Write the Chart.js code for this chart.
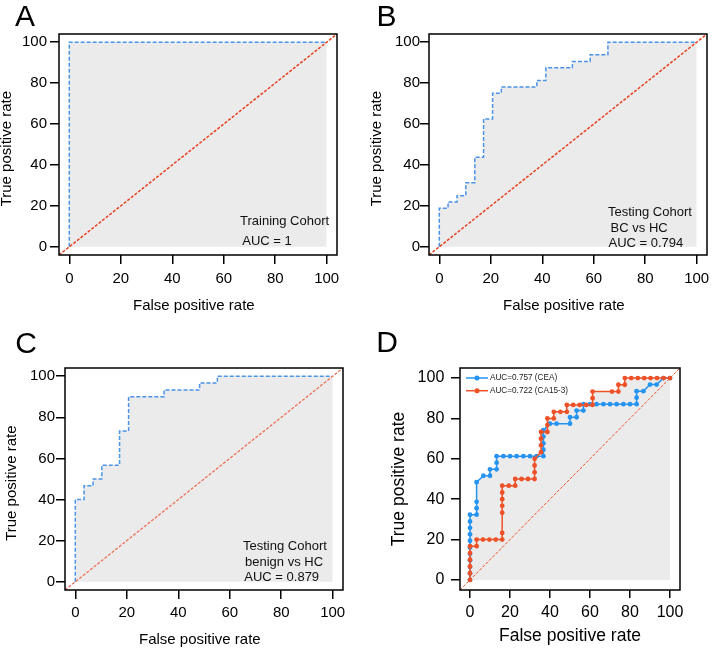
<!DOCTYPE html>
<html><head><meta charset="utf-8">
<script src="https://cdn.jsdelivr.net/npm/chart.js@4/dist/chart.umd.min.js"></script>
<style>
html,body{margin:0;padding:0;background:#fff;}
#wrap{position:relative;width:712px;height:650px;overflow:hidden;}
.panel{position:absolute;width:356px;height:325px;}
canvas{display:block;}
</style></head><body>
<div id="wrap">
<div class="panel" style="left:0;top:0"><canvas id="cA" width="356" height="325"></canvas></div>
<div class="panel" style="left:356px;top:0"><canvas id="cB" width="356" height="325"></canvas></div>
<div class="panel" style="left:0;top:325px"><canvas id="cC" width="356" height="325"></canvas></div>
<div class="panel" style="left:356px;top:325px"><canvas id="cD" width="356" height="325"></canvas></div>
</div>
<script>
const FONT = '"Liberation Sans", Arial, Helvetica, sans-serif';
const TICKS = [0, 20, 40, 60, 80, 100];
const RANGE_ABC = [-4, 104];
const RANGE_D = [-5, 105];
const X_TITLE = 'False positive rate';
const Y_TITLE = 'True positive rate';
const PANELS = ['A', 'B', 'C', 'D'];

// Panel A: training cohort
const A_FPR = [0, 0, 100];
const A_TPR = [0, 100, 100];
// Panel B: testing cohort BC vs HC (step corners)
const B_FPR = [0, 0, 3.4, 6.9, 10.3, 13.8, 17.2, 20.7, 24.1, 37.9, 41.4, 51.7, 58.6, 65.5, 100];
const B_TPR = [0, 18.8, 21.9, 25.0, 31.3, 43.8, 62.5, 75.0, 78.1, 81.3, 87.5, 90.6, 93.8, 100, 100];
// Panel C: testing cohort benign vs HC
const C_FPR = [0, 0, 3.4, 6.9, 10.3, 17.2, 20.7, 34.5, 48.3, 55.2, 100];
const C_TPR = [0, 40.0, 46.7, 50.0, 56.7, 73.3, 90.0, 93.3, 96.7, 100, 100];
// Panel D: CEA
const CEA_FPR = [0,0,0,0,0,0,0,0,0,0,0, 3.3,3.3,3.3,3.3, 6.7, 10,10, 13.3,13.3,13.3,
  16.7,20,23.3,26.7,30,33.3, 36.7,36.7,36.7,36.7,36.7, 40, 43.3, 50,50, 53.3,53.3, 56.7,56.7,
  60,63.3,66.7,70,73.3,76.7,80,83.3, 83.3,83.3, 86.7, 90, 93.3, 96.7, 100];
const CEA_TPR = [0,3.2,6.5,9.7,12.9,16.1,19.4,22.6,25.8,29.0,32.3, 32.3,35.5,38.7,48.4, 51.6, 51.6,54.8, 54.8,58.1,61.3,
  61.3,61.3,61.3,61.3,61.3,61.3, 61.3,64.5,67.7,71.0,74.2, 77.4, 77.4, 77.4,80.6, 80.6,83.9, 83.9,87.1,
  87.1,87.1,87.1,87.1,87.1,87.1,87.1,87.1, 90.3,93.5, 93.5, 96.8, 96.8, 100, 100];
// Panel D: CA15-3
const CA153_FPR = [0,0,0,0,0,0, 3.3,3.3, 6.5,9.7,12.9,16.1, 16.1,16.1,16.1,16.1,16.1,16.1,
  19.4,22.6,22.6, 25.8,29.0,32.3, 32.3,32.3,32.3, 35.5,35.5,35.5,35.5, 38.7,38.7,38.7, 41.9,41.9,
  45.2,48.4,48.4, 51.6,54.8,58.1,61.3, 61.3,61.3, 71.0,74.2,74.2, 77.4,77.4,
  80.6,83.9,87.1,90.3,93.5,96.8,100];
const CA153_TPR = [0,3.3,6.7,10,13.3,16.7, 16.7,20, 20,20,20,20, 23.3,33.3,36.7,40,43.3,46.7,
  46.7,46.7,50, 50,50,50, 53.3,56.7,60, 63.3,66.7,70,73.3, 73.3,76.7,80, 80,83.3,
  83.3,83.3,86.7, 86.7,86.7,86.7,86.7, 90,93.3, 93.3,93.3,96.7, 96.7,100,
  100,100,100,100,100,100,100];
const D_SERIES = ['AUC=0.757 (CEA)', 'AUC=0.722 (CA15-3)'];

const A_NOTE = ['Training Cohort', 'AUC = 1'];
const B_NOTE = ['Testing Cohort', ' BC vs HC', 'AUC = 0.794'];
const C_NOTE = ['Testing Cohort', 'benign vs HC', 'AUC = 0.879'];

const GRAY = '#ebebeb';
const BLUE_DASH = '#4a93e6';
const RED_DIAG = '#e8401f';
const RED_DIAG_C = '#ef6f57';
const BLUE_D = '#2594f0';
const RED_D = '#ee5127';

function xy(xs, ys) { return xs.map((x, i) => ({x: x, y: ys[i]})); }

const decor = {
  id: 'decor',
  afterDatasetsDraw(chart, args, o) {
    const ctx = chart.ctx, a = chart.chartArea;
    ctx.save();
    ctx.setLineDash([]);
    ctx.strokeStyle = '#000';
    ctx.lineWidth = 1.5;
    ctx.strokeRect(a.left, a.top, a.right - a.left, a.bottom - a.top);
    ctx.fillStyle = '#000';
    ctx.textAlign = 'left';
    ctx.textBaseline = 'alphabetic';
    ctx.font = '30px ' + FONT;
    ctx.fillText(o.letter, o.letterX, o.letterY);
    if (o.notes) {
      ctx.font = '13px ' + FONT;
      ctx.fillStyle = '#111';
      o.notes.forEach((t, i) => ctx.fillText(t, o.noteX[i], o.noteY[i]));
    }
    if (o.legend) {
      ctx.font = '8.2px ' + FONT;
      ctx.textBaseline = 'middle';
      chart.data.datasets.filter(d => d.label).forEach((d, i) => {
        const y = a.top + o.legend.y0 + i * o.legend.dy;
        const x0 = a.left + o.legend.x0;
        ctx.strokeStyle = d.borderColor;
        ctx.lineWidth = 1.5;
        ctx.beginPath(); ctx.moveTo(x0, y); ctx.lineTo(x0 + 22, y); ctx.stroke();
        ctx.fillStyle = d.pointBackgroundColor;
        ctx.beginPath(); ctx.arc(x0 + 11, y, 2.5, 0, Math.PI * 2); ctx.fill();
        ctx.fillStyle = '#222';
        ctx.fillText(d.label, x0 + 24, y);
      });
    }
    ctx.restore();
  }
};

function axis(c, isX) {
  return {
    type: 'linear',
    min: c.range[0], max: c.range[1],
    afterBuildTicks: s => { s.ticks = TICKS.map(v => ({value: v})); },
    afterFit: s => {
      if (isX) s.height = c.xH; else s.width = c.yW;
      s.paddingLeft = 0; s.paddingRight = 0; s.paddingTop = 0; s.paddingBottom = 0;
    },
    border: {display: false},
    grid: {display: true, drawOnChartArea: false, drawTicks: true,
           tickLength: isX ? c.xTL : c.yTL, color: '#000', lineWidth: 1.5},
    ticks: {color: '#000', padding: isX ? c.xTP : c.yTP, autoSkip: false, maxRotation: 0,
            font: {family: FONT, size: c.tickSize}},
    title: {display: true, text: isX ? c.xTitle : c.yTitle, color: '#000',
            font: {family: FONT, size: c.titleSize, lineHeight: 1},
            padding: isX ? {top: 0, bottom: c.xTitlePad} : {top: c.yTitlePad, bottom: 0}}
  };
}

function make(id, c, datasets) {
  return new Chart(document.getElementById(id), {
    type: 'line',
    data: {datasets: datasets},
    options: {
      responsive: false, animation: false, events: [],
      layout: {padding: {left: 0, top: c.padTop, right: c.padRight, bottom: 0}},
      plugins: {
        legend: {display: false}, tooltip: {enabled: false},
        filler: {drawTime: 'beforeDatasetsDraw'},
        decor: c.decor
      },
      scales: {x: axis(c, true), y: axis(c, false)}
    },
    plugins: [decor]
  });
}

function rocDashed(xs, ys) {
  return {data: xy(xs, ys), stepped: 'before', borderColor: BLUE_DASH, borderWidth: 1.5,
          borderDash: [4, 2], backgroundColor: GRAY, fill: 'origin', pointRadius: 0, order: 1};
}
function diag(range, color, width) {
  return {data: xy(range, range), borderColor: color, borderWidth: width,
          borderDash: [3, 1.6], fill: false, pointRadius: 0, order: 0};
}

const base = {range: RANGE_ABC, tickSize: 15, titleSize: 15, xTL: 9, yTL: 9,
              xTitle: X_TITLE + '  ', yTitle: Y_TITLE + '  '};

make('cA', Object.assign({}, base, {padTop: 34, padRight: 19, yW: 59, xH: 70, xTP: 6, yTP: 3,
  xTitlePad: 12, yTitlePad: -1,
  decor: {letter: PANELS[0], letterX: 15, letterY: 26, notes: A_NOTE, noteX: [240, 242.3], noteY: [225, 244.5]}}),
  [diag(RANGE_ABC, RED_DIAG, 1.5), rocDashed(A_FPR, A_TPR)]);

make('cB', Object.assign({}, base, {padTop: 34, padRight: 5, yW: 73, xH: 70, xTP: 5.5, yTP: 0,
  xTitlePad: 11.5, yTitlePad: 13,
  decor: {letter: PANELS[1], letterX: 20.5, letterY: 26, notes: B_NOTE, noteX: [252, 251, 252.5], noteY: [215.5, 231.5, 247.2]}}),
  [diag(RANGE_ABC, RED_DIAG, 1.5), rocDashed(B_FPR, B_TPR)]);

make('cC', Object.assign({}, base, {padTop: 43, padRight: 13, yW: 65, xH: 60, xTP: 4.5, yTP: 1,
  xTitlePad: 2.2, yTitlePad: 4,
  decor: {letter: PANELS[2], letterX: 15.2, letterY: 27.8, notes: C_NOTE, noteX: [243, 245, 244.3], noteY: [225.3, 240.7, 256]}}),
  [diag(RANGE_ABC, RED_DIAG_C, 1.3), rocDashed(C_FPR, C_TPR)]);

make('cD', {range: RANGE_D, tickSize: 16, titleSize: 17.5, xTL: 8, yTL: 9,
  xTitle: X_TITLE, yTitle: Y_TITLE,
  padTop: 43, padRight: 32, yW: 104, xH: 60, xTP: 4.9, yTP: 6.7, xTitlePad: 5.3, yTitlePad: 34.3,
  decor: {letter: PANELS[3], letterX: 20.3, letterY: 26.7, legend: {x0: 6, y0: 10, dy: 12.7}}},
  [
    {label: D_SERIES[0], data: xy(CEA_FPR, CEA_TPR), borderColor: BLUE_D, borderWidth: 1.5,
     pointRadius: 2.4, pointBorderWidth: 0, pointBackgroundColor: BLUE_D,
     backgroundColor: GRAY, fill: 'origin', order: 2},
    {label: D_SERIES[1], data: xy(CA153_FPR, CA153_TPR), borderColor: RED_D, borderWidth: 1.5,
     pointRadius: 2.4, pointBorderWidth: 0, pointBackgroundColor: RED_D,
     backgroundColor: GRAY, fill: 'origin', order: 1},
    Object.assign(diag(RANGE_D, RED_D, 1), {order: 3})
  ]);
</script>
</body></html>
